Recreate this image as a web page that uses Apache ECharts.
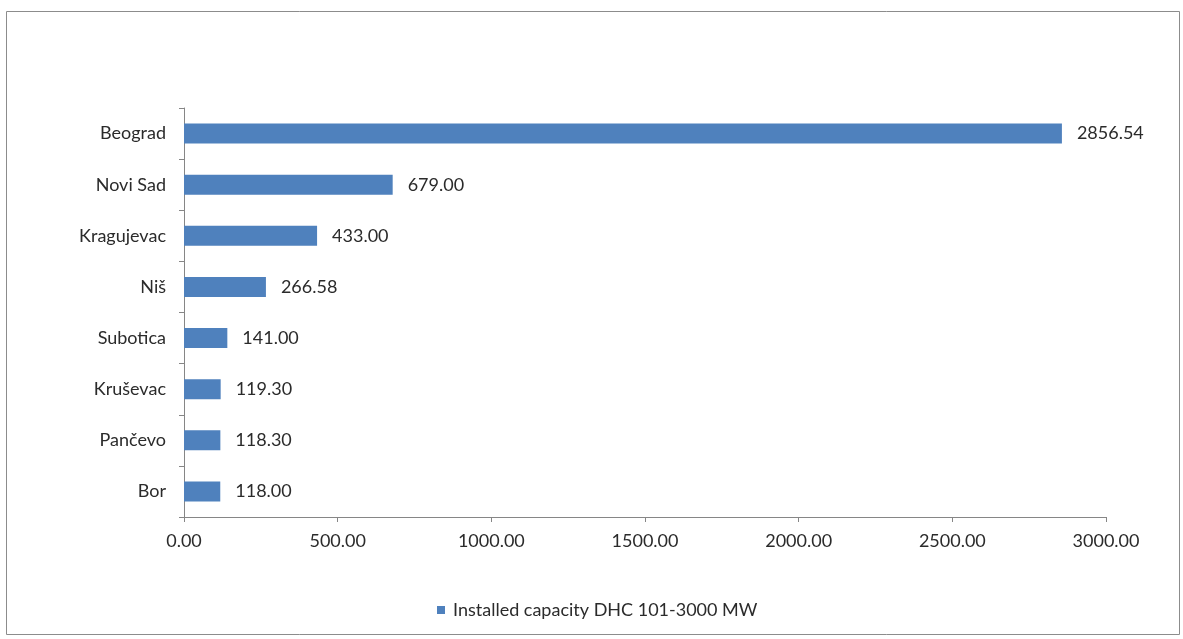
<!DOCTYPE html>
<html>
<head>
<meta charset="utf-8">
<script src="https://cdn.jsdelivr.net/npm/echarts@6/dist/echarts.min.js"></script>
<style>
  html, body { margin: 0; padding: 0; background: #fff; }
  #chart { width: 1183px; height: 639px; }
</style>
</head>
<body>
<div id="chart"></div>
<script>
// District heating installed capacity by city (MW)
const cities = ['Beograd', 'Novi Sad', 'Kragujevac', 'Niš', 'Subotica', 'Kruševac', 'Pančevo', 'Bor'];
const capacity = [2856.54, 679.00, 433.00, 266.58, 141.00, 119.30, 118.30, 118.00];
const seriesName = 'Installed capacity DHC 101-3000 MW';
const axisMin = 0;
const axisMax = 3000;
const axisStep = 500;

const FONT = 'Lato, "Open Sans", sans-serif';
const TEXT = '#2b2b2b';
const AXIS = '#868686';
const BAR = '#4F81BD';

const chart = echarts.init(document.getElementById('chart'), null, { renderer: 'canvas' });

chart.setOption({
  backgroundColor: '#ffffff',
  animation: false,
  graphic: [{
    type: 'rect',
    shape: { x: 6.5, y: 11.5, width: 1173, height: 623 },
    style: { fill: 'none', stroke: '#8c8c8c', lineWidth: 1 },
    silent: true
  }],
  grid: { left: 184, right: 77, top: 108, bottom: 122, containLabel: false },
  legend: {
    data: [seriesName],
    left: 437,
    top: 601,
    padding: 0,
    icon: 'rect',
    itemWidth: 8,
    itemHeight: 8,
    textStyle: { fontFamily: FONT, fontSize: 18, color: TEXT, padding: [0, 0, 0, 3] }
  },
  xAxis: {
    type: 'value',
    min: axisMin,
    max: axisMax,
    interval: axisStep,
    axisLine: { show: true, lineStyle: { color: AXIS, width: 1 } },
    axisTick: { show: true, length: 5, lineStyle: { color: AXIS } },
    splitLine: { show: false },
    axisLabel: {
      margin: 15,
      fontFamily: FONT,
      fontSize: 18,
      color: TEXT,
      formatter: v => v.toFixed(2)
    }
  },
  yAxis: {
    type: 'category',
    data: cities,
    inverse: true,
    axisLine: { show: true, lineStyle: { color: AXIS, width: 1 } },
    axisTick: { show: true, length: 5, lineStyle: { color: AXIS } },
    axisLabel: {
      margin: 18,
      fontFamily: FONT,
      fontSize: 18,
      color: TEXT
    }
  },
  series: [{
    name: seriesName,
    type: 'bar',
    data: capacity,
    barWidth: 20,
    itemStyle: { color: BAR },
    label: {
      show: true,
      position: 'right',
      distance: 15,
      fontFamily: FONT,
      fontSize: 18,
      color: TEXT,
      formatter: p => p.value.toFixed(2)
    }
  }]
});
</script>
</body>
</html>
